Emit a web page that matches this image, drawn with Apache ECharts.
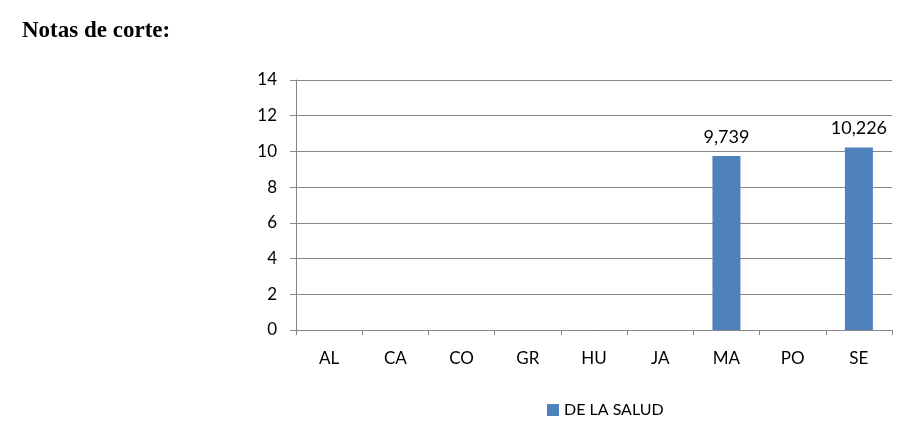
<!DOCTYPE html>
<html>
<head>
<meta charset="utf-8">
<script src="https://cdn.jsdelivr.net/npm/echarts@6/dist/echarts.min.js"></script>
<style>
    html, body { margin: 0; padding: 0; background: #fff; }
    #chart { width: 912px; height: 430px; }
</style>
</head>
<body>
<div id="chart"></div>
<script>
    // notas de corte por provincia
    const categories = ['AL', 'CA', 'CO', 'GR', 'HU', 'JA', 'MA', 'PO', 'SE']
    const seriesName = 'DE LA SALUD'
    const saludValues = [null, null, null, null, null, null, 9.739, null, 10.226]
    const yTicks = { min: 0, max: 14, interval: 2 }

    const chart = echarts.init(document.getElementById('chart'))
    const labelFont = 'Lato, "Open Sans", sans-serif'
    chart.setOption({
        animation: false,
        title: {
            text: 'Notas de corte:',
            left: 17,
            top: 15,
            textStyle: {
                fontFamily: '"Liberation Serif", "DejaVu Serif", serif',
                fontWeight: 'bold',
                fontSize: 23,
                color: '#000'
            }
        },
        grid: {
            left: 296,
            right: 20,
            top: 80,
            bottom: 100
        },
        legend: {
            data: [seriesName],
            left: 542,
            top: 397,
            itemWidth: 12,
            itemHeight: 12,
            itemGap: 4,
            icon: 'rect',
            textStyle: {
                fontFamily: labelFont,
                fontSize: 16,
                color: '#000'
            }
        },
        xAxis: {
            type: 'category',
            data: categories,
            axisLine: { lineStyle: { color: '#868686', width: 1 } },
            axisTick: { show: true, length: 5, lineStyle: { color: '#868686' } },
            axisLabel: {
                margin: 20,
                fontFamily: labelFont,
                fontSize: 17,
                color: '#000'
            }
        },
        yAxis: {
            type: 'value',
            min: yTicks.min,
            max: yTicks.max,
            interval: yTicks.interval,
            axisLine: { show: true, lineStyle: { color: '#868686', width: 1 } },
            axisTick: { show: true, length: 6, lineStyle: { color: '#868686' } },
            splitLine: { lineStyle: { color: '#868686', width: 1 } },
            axisLabel: {
                margin: 19,
                fontFamily: labelFont,
                fontSize: 17,
                color: '#000'
            }
        },
        series: [{
            name: seriesName,
            type: 'bar',
            data: saludValues,
            barWidth: 28,
            itemStyle: { color: '#4f81bd' },
            label: {
                show: true,
                position: 'top',
                distance: 10,
                fontFamily: labelFont,
                fontSize: 18,
                color: '#000',
                formatter: p => String(p.value).replace('.', ',')
            }
        }]
    })
</script>
</body>
</html>
